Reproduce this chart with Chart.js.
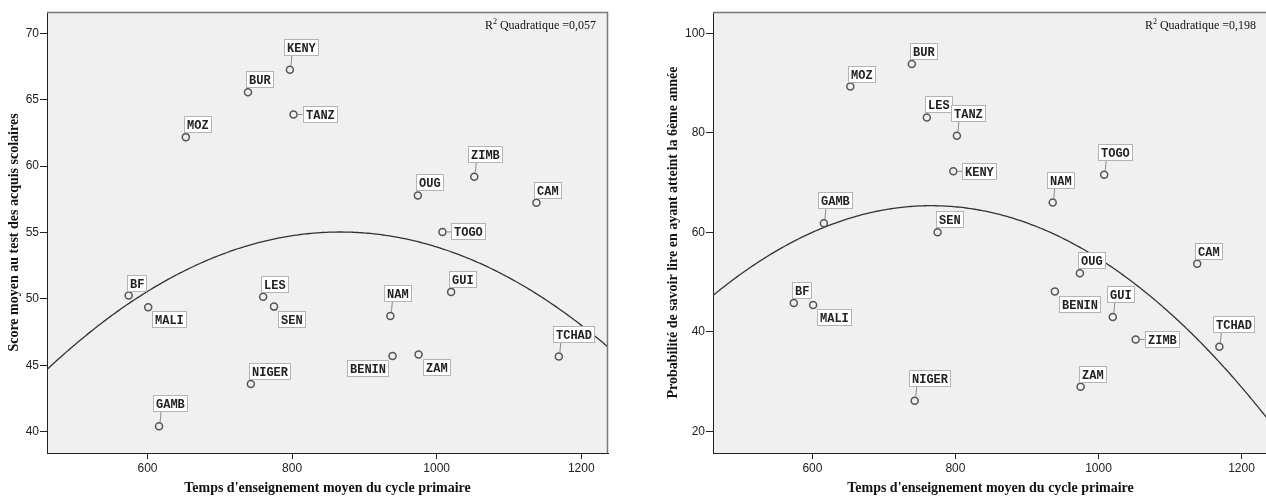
<!DOCTYPE html>
<html>
<head>
<meta charset="utf-8">
<script src="https://cdn.jsdelivr.net/npm/chart.js@4/dist/chart.umd.min.js"></script>
<style>
html, body { margin: 0; padding: 0; background: #fff; overflow: hidden; }
#wrap { position: relative; width: 1266px; height: 497px; overflow: hidden; }
#chartScore { position: absolute; left: 0; top: 0; }
#chartLire { position: absolute; left: 630px; top: 0; }
</style>
</head>
<body>
<div id="wrap">
  <canvas id="chartScore" width="630" height="497"></canvas>
  <canvas id="chartLire" width="638" height="497"></canvas>
</div>
<script>
// données
const countries = ['BF', 'MALI', 'GAMB', 'MOZ', 'BUR', 'NIGER', 'LES', 'SEN', 'KENY', 'TANZ',
                   'NAM', 'BENIN', 'OUG', 'ZAM', 'TOGO', 'GUI', 'ZIMB', 'CAM', 'TCHAD'];
const teachTime = [574, 601, 616, 653, 739, 743, 760, 775, 797, 802,
                   936, 939, 974, 975, 1008, 1020, 1052, 1138, 1169];
const scoreVals = [50.25, 49.37, 40.42, 62.18, 65.56, 43.6, 50.17, 49.42, 67.26, 63.88,
                   48.72, 45.71, 57.79, 45.81, 55.04, 50.53, 59.2, 57.24, 45.66];
const lireVals = [45.8, 45.4, 61.85, 89.3, 93.85, 26.17, 83.1, 60.04, 72.27, 79.4,
                  66.0, 48.1, 51.76, 28.98, 71.6, 43.0, 38.48, 53.7, 37.0];
const xTicks = [600, 800, 1000, 1200];
const scoreTicks = [40, 45, 50, 55, 60, 65, 70];
const lireTicks = [20, 40, 60, 80, 100];
const r2Labels = ['0,057', '0,198'];

// placement des étiquettes (mise en page seulement)
const scorePlace = {
    BF: 'ne', MALI: 'se', GAMB: 'n', MOZ: 'ne', BUR: 'ne', NIGER: 'ne', LES: 'ne', SEN: 'se',
    KENY: 'n', TANZ: 'e', NAM: 'n', BENIN: 'sw', OUG: 'ne', ZAM: 'se', TOGO: 'e', GUI: 'ne',
    ZIMB: 'n', CAM: 'ne', TCHAD: 'n'
};
const lirePlace = {
    BF: 'ne', MALI: 'se', GAMB: 'n', MOZ: 'ne', BUR: 'ne', NIGER: 'n', LES: 'ne', SEN: 'ne',
    KENY: 'e', TANZ: 'n', NAM: 'n', BENIN: 'se', OUG: 'ne', ZAM: 'ne', TOGO: 'n', GUI: 'n',
    ZIMB: 'e', CAM: 'ne', TCHAD: 'n'
};

// ajustement quadratique (moindres carrés)
function quadFit(xs, ys) {
    const S = [[0, 0, 0], [0, 0, 0], [0, 0, 0]];
    const R = [0, 0, 0];
    xs.forEach((x, i) => {
        const t = (x - 850) / 100;
        const p = [1, t, t * t];
        for (let r = 0; r < 3; r++) {
            R[r] += p[r] * ys[i];
            for (let c = 0; c < 3; c++) S[r][c] += p[r] * p[c];
        }
    });
    const M = S.map((row, r) => row.concat(R[r]));
    for (let k = 0; k < 3; k++) {
        for (let r = k + 1; r < 3; r++) {
            const f = M[r][k] / M[k][k];
            for (let c = k; c < 4; c++) M[r][c] -= f * M[k][c];
        }
    }
    const co = [0, 0, 0];
    for (let k = 2; k >= 0; k--) {
        let s = M[k][3];
        for (let c = k + 1; c < 3; c++) s -= M[k][c] * co[c];
        co[k] = s / M[k][k];
    }
    return x => {
        const t = (x - 850) / 100;
        return co[0] + co[1] * t + co[2] * t * t;
    };
}

function curvePoints(fn, xmin, xmax) {
    const pts = [];
    for (let x = xmin; x <= xmax; x += 3) pts.push({ x: x, y: fn(x) });
    pts.push({ x: xmax, y: fn(xmax) });
    return pts;
}

// fond gris + cadre
const frameBg = {
    id: 'frameBg',
    beforeDraw(chart) {
        const { ctx, chartArea: a } = chart;
        ctx.save();
        ctx.fillStyle = '#f0f0f0';
        ctx.fillRect(a.left, a.top, a.right - a.left, a.bottom - a.top);
        ctx.restore();
    },
    afterDraw(chart, args, opts) {
        const { ctx, chartArea: a } = chart;
        ctx.save();
        ctx.strokeStyle = '#7a7a7a';
        ctx.lineWidth = 1.5;
        ctx.beginPath();
        ctx.moveTo(a.left, a.top + 0.5);
        ctx.lineTo(a.right - 0.5, a.top + 0.5);
        ctx.lineTo(a.right - 0.5, a.bottom);
        ctx.stroke();
        // R² Quadratique
        const right = a.right - 12;
        const y = a.top + 17;
        ctx.fillStyle = '#111';
        ctx.textBaseline = 'alphabetic';
        ctx.font = '12px "Liberation Serif", serif';
        const rest = ' Quadratique =' + opts.r2;
        const wRest = ctx.measureText(rest).width;
        const wR = ctx.measureText('R').width;
        ctx.font = '8px "Liberation Serif", serif';
        const w2 = ctx.measureText('2').width;
        const x0 = right - wRest - w2 - wR;
        ctx.font = '12px "Liberation Serif", serif';
        ctx.fillText('R', x0, y);
        ctx.fillText(rest, x0 + wR + w2, y);
        ctx.font = '8px "Liberation Serif", serif';
        ctx.fillText('2', x0 + wR, y - 5);
        ctx.restore();
    }
};

// étiquettes des pays
const pointLabels = {
    id: 'pointLabels',
    afterDatasetsDraw(chart, args, opts) {
        const ctx = chart.ctx;
        const meta = chart.getDatasetMeta(0);
        ctx.save();
        ctx.font = 'bold 12px "Liberation Mono", monospace';
        ctx.textBaseline = 'middle';
        meta.data.forEach((pt, i) => {
            const name = countries[i];
            const place = opts.place[name];
            const w = Math.round(ctx.measureText(name).width) + 6;
            const h = 17;
            const px = pt.x, py = pt.y;
            let left, top, lead = null;
            if (place === 'n') {
                left = px - 6; top = py - 14 - h;
                lead = [px + 1, py - 4, px + 2, py - 14];
            } else if (place === 'e') {
                left = px + 9; top = py - h / 2;
                lead = [px + 4, py, left, py];
            } else if (place === 'se') {
                left = px + 4; top = py + 4;
            } else if (place === 'sw') {
                left = px - 4 - w; top = py + 4;
            } else {
                left = px - 2; top = py - 4 - h;
            }
            left = Math.round(left); top = Math.round(top);
            if (lead) {
                ctx.strokeStyle = '#8a8a8a';
                ctx.lineWidth = 1;
                ctx.beginPath();
                ctx.moveTo(lead[0], lead[1]);
                ctx.lineTo(lead[2], lead[3]);
                ctx.stroke();
            }
            ctx.fillStyle = '#fff';
            ctx.fillRect(left, top, w, h);
            ctx.strokeStyle = '#b4b4b4';
            ctx.lineWidth = 1;
            ctx.strokeRect(left + 0.5, top + 0.5, w - 1, h - 1);
            ctx.fillStyle = '#222';
            ctx.fillText(name, left + 3, top + h / 2 + 1);
        });
        ctx.restore();
    }
};

function makeChart(canvasId, yVals, yTicks, yMin, yMax, yTitle, place, r2, yWidth, yTitlePad, padRight) {
    const xMin = 461, xMax = 1237;
    const fit = quadFit(teachTime, yVals);
    const pts = teachTime.map((x, i) => ({ x: x, y: yVals[i] }));
    const ctx = document.getElementById(canvasId).getContext('2d');
    return new Chart(ctx, {
        type: 'scatter',
        data: {
            datasets: [{
                data: pts,
                pointRadius: 3.5,
                pointHoverRadius: 3.5,
                pointBorderWidth: 1.5,
                borderColor: '#555',
                backgroundColor: 'rgba(0,0,0,0)'
            }, {
                data: curvePoints(fit, xMin, xMax),
                showLine: true,
                pointRadius: 0,
                borderColor: '#333',
                borderWidth: 1.3,
                tension: 0
            }]
        },
        options: {
            responsive: false,
            animation: false,
            events: [],
            layout: { autoPadding: false, padding: { top: 12, right: padRight, left: 0, bottom: 0 } },
            plugins: {
                legend: { display: false },
                tooltip: { enabled: false },
                frameBg: { r2: r2 },
                pointLabels: { place: place }
            },
            scales: {
                x: {
                    type: 'linear',
                    min: xMin,
                    max: xMax,
                    afterBuildTicks: s => { s.ticks = xTicks.map(v => ({ value: v })); },
                    afterFit: s => { s.height = 44; s.paddingLeft = 0; s.paddingRight = 0; },
                    grid: { drawOnChartArea: false, drawTicks: true, tickLength: 6, tickColor: '#222' },
                    border: { display: true, color: '#222', width: 1 },
                    ticks: {
                        padding: 2,
                        color: '#222',
                        callback: v => String(v),
                        font: { family: '"Liberation Sans Narrow", "Liberation Sans", sans-serif', size: 12 }
                    },
                    title: {
                        display: true,
                        text: "Temps d'enseignement moyen du cycle primaire",
                        color: '#111',
                        padding: { top: 0, bottom: 0 },
                        font: { family: '"Liberation Serif", serif', size: 14, weight: 'bold', lineHeight: 1.2 }
                    }
                },
                y: {
                    type: 'linear',
                    min: yMin,
                    max: yMax,
                    afterBuildTicks: s => { s.ticks = yTicks.map(v => ({ value: v })); },
                    afterFit: s => { s.width = yWidth; s.paddingTop = 0; s.paddingBottom = 0; },
                    grid: { drawOnChartArea: false, drawTicks: true, tickLength: 7, tickColor: '#222' },
                    border: { display: true, color: '#222', width: 1 },
                    ticks: {
                        padding: 1,
                        color: '#222',
                        callback: v => String(v),
                        font: { family: '"Liberation Sans Narrow", "Liberation Sans", sans-serif', size: 12 }
                    },
                    title: {
                        display: true,
                        text: yTitle,
                        color: '#111',
                        padding: { top: yTitlePad, bottom: 0 },
                        font: { family: '"Liberation Serif", serif', size: 14, weight: 'bold', lineHeight: 1.2 }
                    }
                }
            }
        },
        plugins: [frameBg, pointLabels]
    });
}

makeChart('chartScore', scoreVals, scoreTicks, 38.4, 71.6,
    'Score moyen au test des acquis scolaires', scorePlace, r2Labels[0], 47, 6, 22);
makeChart('chartLire', lireVals, lireTicks, 15.65, 104.3,
    'Probabilité de savoir lire en ayant atteint la 6ème année', lirePlace, r2Labels[1], 83, 35, 0);
</script>
</body>
</html>
